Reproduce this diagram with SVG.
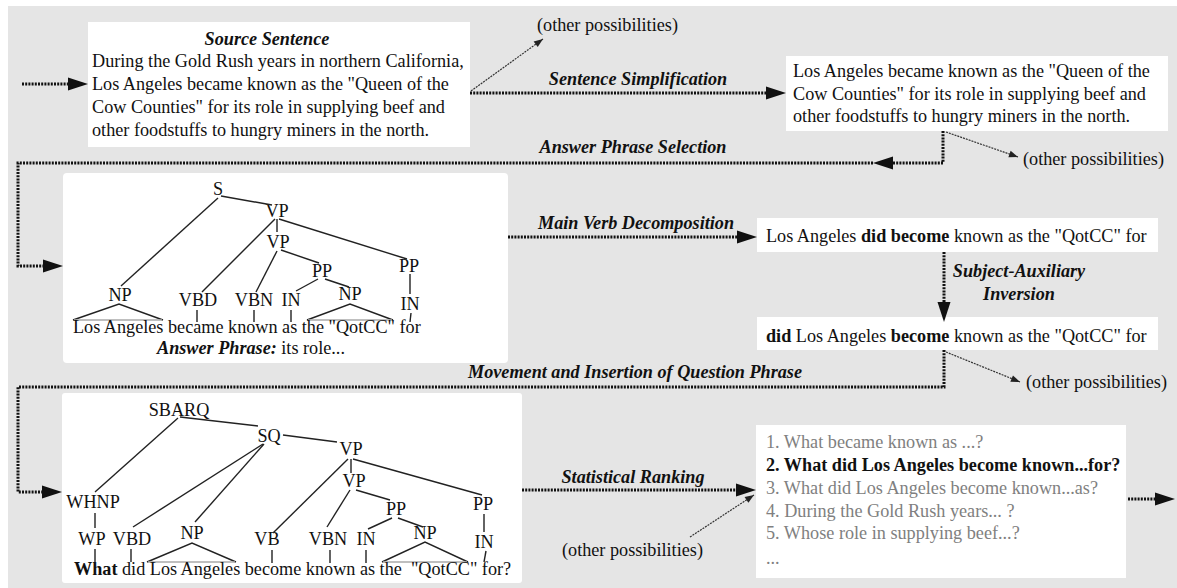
<svg xmlns="http://www.w3.org/2000/svg" width="1177" height="588" viewBox="0 0 1177 588">
  <style>
    text { font-family: "Liberation Serif", "Times New Roman", serif; font-size: 18.2px; fill: #111; }
    .box { fill: #ffffff; }
    .lbl { font-weight: bold; font-style: italic; text-anchor: middle; }
    .t { text-anchor: middle; }
    .b { font-weight: bold; }
    .bi { font-weight: bold; font-style: italic; }
    .gray { fill: #808080; }
    .edge { stroke: #222; stroke-width: 1.4; fill: none; }
    .base { stroke: #aaa; stroke-width: 1.5; fill: none; }
    .dot { stroke: #111; stroke-width: 3; stroke-dasharray: 2 1.2; fill: none; }
    .thin { stroke: #333; stroke-width: 1.2; stroke-dasharray: 2 1; fill: none; }
  </style>
  <defs>
    <!-- heavy arrowhead: path ends at the arrow base, head extends 20px forward -->
    <marker id="ah" markerUnits="userSpaceOnUse" markerWidth="21" markerHeight="14" refX="0" refY="7" orient="auto" overflow="visible">
      <path d="M0,0.5 L20,7 L0,13.5 Z" fill="#111"/>
    </marker>
    <!-- small arrowhead for the side branches -->
    <marker id="ahs" markerUnits="userSpaceOnUse" markerWidth="10" markerHeight="8" refX="9" refY="3.5" orient="auto" overflow="visible">
      <path d="M0,0 L9,3.5 L0,7 Z" fill="#222"/>
    </marker>
  </defs>

  <!-- canvas -->
  <rect x="8" y="6" width="1169" height="582" fill="#e5e5e5"/>

  <g id="source">
    <rect class="box" x="88" y="22" width="382" height="125"/>
    <text class="lbl" x="267" y="44.5">Source Sentence</text>
    <text x="92" y="67.3">During the Gold Rush years in northern California,</text>
    <text x="92" y="90.1">Los Angeles became known as the "Queen of the</text>
    <text x="92" y="112.9">Cow Counties" for its role in supplying beef and</text>
    <text x="92" y="135.7">other foodstuffs to hungry miners in the north.</text>
  </g>

  <g id="simplified">
    <rect class="box" x="786" y="56" width="382" height="75"/>
    <text x="793" y="77">Los Angeles became known as the "Queen of the</text>
    <text x="793" y="99.5">Cow Counties" for its role in supplying beef and</text>
    <text x="793" y="122">other foodstuffs to hungry miners in the north.</text>
  </g>

  <g id="tree-answer">
    <rect class="box" x="63" y="173" width="445" height="190" rx="4"/>
    <text class="t" x="218" y="195">S</text>
    <text class="t" x="277" y="216.5">VP</text>
    <text class="t" x="278" y="248">VP</text>
    <text class="t" x="322" y="276.5">PP</text>
    <text class="t" x="409" y="271.5">PP</text>
    <text class="t" x="120" y="301">NP</text>
    <text class="t" x="198" y="306">VBD</text>
    <text class="t" x="254" y="306">VBN</text>
    <text class="t" x="291" y="306">IN</text>
    <text class="t" x="350" y="300">NP</text>
    <text class="t" x="410" y="310">IN</text>
    <g class="edge">
      <path d="M218,198 L121,286"/>
      <path d="M221,196 L272,205"/>
      <path d="M277,219 V232"/>
      <path d="M275,219 L202,292"/>
      <path d="M279,219 L407,259"/>
      <path d="M277,251 L256,292"/>
      <path d="M281,250 L319,263"/>
      <path d="M318,279 L296,291"/>
      <path d="M325,279 L349,287"/>
      <path d="M410,274 V294"/>
      <path d="M197,310 V322"/>
      <path d="M254,310 V322"/>
      <path d="M291,310 V322"/>
      <path d="M411,313 L410,322"/>
      <path d="M73,320 L119,304 L163,320"/>
      <path d="M307,320 L350,304 L393,320"/>
    </g>
    <path class="base" d="M74,320 H162 M308,320 H392"/>
    <text x="73" y="333">Los Angeles became known as the "QotCC" for</text>
    <text x="157" y="354"><tspan class="bi">Answer Phrase:</tspan> its role...</text>
  </g>

  <g id="decomposed">
    <rect class="box" x="757" y="218" width="401" height="34"/>
    <text x="766" y="242">Los Angeles <tspan class="b">did become</tspan> known as the "QotCC" for</text>
  </g>

  <g id="inverted">
    <rect class="box" x="757" y="317" width="401" height="33"/>
    <text x="766" y="342"><tspan class="b">did</tspan> Los Angeles <tspan class="b">become</tspan> known as the "QotCC" for</text>
  </g>

  <g id="tree-question">
    <rect class="box" x="62" y="393" width="460" height="190" rx="3"/>
    <text class="t" x="179" y="416">SBARQ</text>
    <text class="t" x="269" y="442">SQ</text>
    <text class="t" x="351" y="455">VP</text>
    <text class="t" x="354" y="487">VP</text>
    <text class="t" x="93" y="508">WHNP</text>
    <text class="t" x="396" y="515">PP</text>
    <text class="t" x="483" y="510">PP</text>
    <text class="t" x="92" y="545">WP</text>
    <text class="t" x="132" y="545">VBD</text>
    <text class="t" x="192" y="539">NP</text>
    <text class="t" x="267" y="545">VB</text>
    <text class="t" x="328" y="545">VBN</text>
    <text class="t" x="366" y="545">IN</text>
    <text class="t" x="425" y="539">NP</text>
    <text class="t" x="484" y="548">IN</text>
    <g class="edge">
      <path d="M178,418 L95,492"/>
      <path d="M180,417 L258,426"/>
      <path d="M283,435 L337,442"/>
      <path d="M263,444 L133,527"/>
      <path d="M264,444 L195,522"/>
      <path d="M351,459 V473"/>
      <path d="M348,459 L273,533"/>
      <path d="M353,459 L482,495"/>
      <path d="M350,490 L327,527"/>
      <path d="M356,490 L390,500"/>
      <path d="M392,518 L368,529"/>
      <path d="M398,518 L423,527"/>
      <path d="M484,514 V532"/>
      <path d="M95,513 V528"/>
      <path d="M95,549 V562"/>
      <path d="M131,549 V562"/>
      <path d="M272,550 V563"/>
      <path d="M330,550 V563"/>
      <path d="M366,550 V563"/>
      <path d="M486,551 L484,562"/>
      <path d="M147,562 L192,543 L236,562"/>
      <path d="M382,562 L425,542 L468,562"/>
    </g>
    <path class="base" d="M148,562 H235 M383,562 H467"/>
    <text x="74" y="575" xml:space="preserve"><tspan class="b">What</tspan> did Los Angeles become known as the  "QotCC" for?</text>
  </g>

  <g id="ranking">
    <rect class="box" x="756" y="425" width="370" height="153"/>
    <text class="gray" x="766" y="448">1. What became known as ...?</text>
    <text class="b" x="766" y="471">2. What did Los Angeles become known...for?</text>
    <text class="gray" x="766" y="494">3. What did Los Angeles become known...as?</text>
    <text class="gray" x="766" y="516.5">4. During the Gold Rush years... ?</text>
    <text class="gray" x="766" y="539">5. Whose role in supplying beef...?</text>
    <text class="gray" x="766" y="564">...</text>
  </g>

  <g id="connectors">
    <!-- main pipeline -->
    <path class="dot" d="M22,84 H68" marker-end="url(#ah)"/>
    <path class="dot" d="M470,93 H766" marker-end="url(#ah)"/>
    <path class="dot" d="M943,131 V163 H893" marker-end="url(#ah)"/>
    <path class="dot" d="M873,163 H18 V266 H43" marker-end="url(#ah)"/>
    <path class="dot" d="M508,237 H737" marker-end="url(#ah)"/>
    <path class="dot" d="M944,252 V302" marker-end="url(#ah)"/>
    <path class="dot" d="M944,350 V387 H18 V492 H42" marker-end="url(#ah)"/>
    <path class="dot" d="M522,490 H736" marker-end="url(#ah)"/>
    <path class="dot" d="M1128,499 H1155" marker-end="url(#ah)"/>

    <!-- side branches -->
    <path class="thin" d="M471,91 L543,39" marker-end="url(#ahs)"/>
    <path class="thin" d="M946,132 L1018,157" marker-end="url(#ahs)"/>
    <path class="thin" d="M946,352 L1020,382" marker-end="url(#ahs)"/>
    <path class="thin" d="M690,537 L754,495" marker-end="url(#ahs)"/>

    <!-- step labels -->
    <text class="lbl" x="638" y="85">Sentence Simplification</text>
    <text class="lbl" x="633" y="153">Answer Phrase Selection</text>
    <text class="lbl" x="636" y="229">Main Verb Decomposition</text>
    <text class="lbl" x="1019" y="277">Subject-Auxiliary</text>
    <text class="lbl" x="1019" y="300">Inversion</text>
    <text class="lbl" x="635" y="378">Movement and Insertion of Question Phrase</text>
    <text class="lbl" x="633" y="483">Statistical Ranking</text>

    <text x="537" y="31">(other possibilities)</text>
    <text x="1023" y="165">(other possibilities)</text>
    <text x="1026" y="388">(other possibilities)</text>
    <text x="562" y="556">(other possibilities)</text>
  </g>
</svg>
